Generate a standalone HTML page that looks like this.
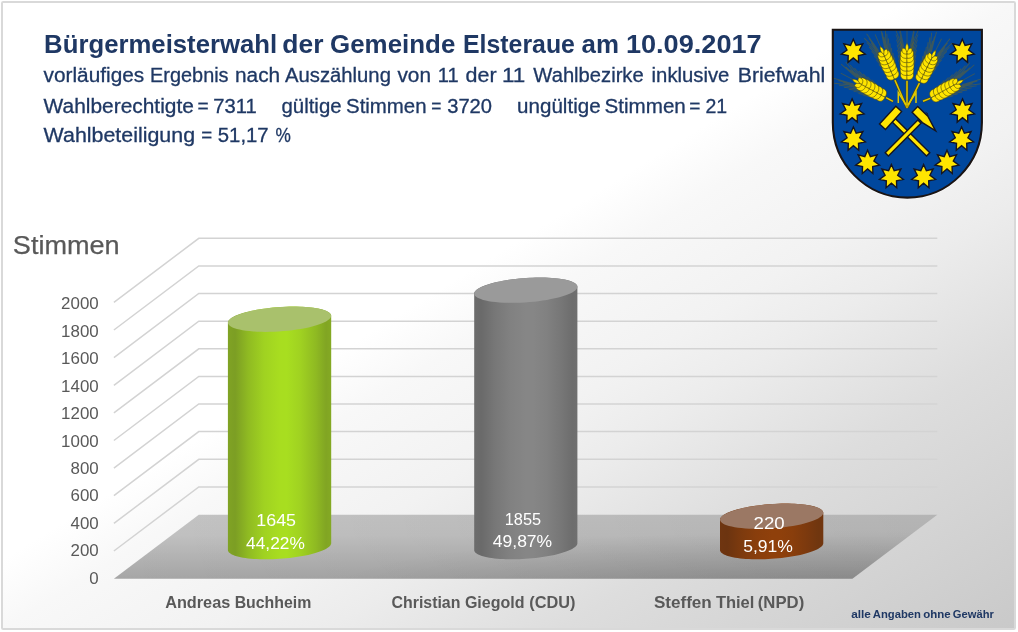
<!DOCTYPE html>
<html lang="de"><head><meta charset="utf-8"><title>Bürgermeisterwahl der Gemeinde Elsteraue am 10.09.2017</title>
<style>
html,body{margin:0;padding:0;background:#fff;}
body{width:1018px;height:632px;overflow:hidden;font-family:"Liberation Sans",sans-serif;}
svg{display:block;}
svg text{font-family:"Liberation Sans",sans-serif;}
</style></head><body>
<svg width="1018" height="632" viewBox="0 0 1018 632">
<defs>
<linearGradient id="bg" x1="0" y1="0" x2="1" y2="1">
<stop offset="0" stop-color="#ffffff"/><stop offset="0.445" stop-color="#ffffff"/><stop offset="0.5" stop-color="#f8f8f8"/><stop offset="0.6" stop-color="#f2f2f2"/><stop offset="0.66" stop-color="#ececec"/><stop offset="0.776" stop-color="#dddddd"/><stop offset="1" stop-color="#c9c9c9"/>
</linearGradient>
<linearGradient id="floor" gradientUnits="userSpaceOnUse" x1="0" y1="514" x2="0" y2="578">
<stop offset="0" stop-color="#c4c4c4"/><stop offset="0.33" stop-color="#c1c1c1"/><stop offset="1" stop-color="#a6a6a6"/>
</linearGradient>
<linearGradient id="floorx" gradientUnits="userSpaceOnUse" x1="114" y1="0" x2="937" y2="0">
<stop offset="0" stop-color="#000" stop-opacity="0"/><stop offset="1" stop-color="#000" stop-opacity="0.08"/>
</linearGradient>
<radialGradient id="floorr" gradientUnits="userSpaceOnUse" cx="0" cy="0" r="1" gradientTransform="translate(840,592) scale(520,62)">
<stop offset="0" stop-color="#000" stop-opacity="0.13"/><stop offset="1" stop-color="#000" stop-opacity="0"/>
</radialGradient>
<linearGradient id="gGreen" x1="0" y1="0" x2="1" y2="0"><stop offset="0" stop-color="#80a324"/><stop offset="0.07" stop-color="#7c9e24"/><stop offset="0.2" stop-color="#90bb22"/><stop offset="0.35" stop-color="#a0d221"/><stop offset="0.5" stop-color="#a8dd20"/><stop offset="0.57" stop-color="#a8de20"/><stop offset="0.7" stop-color="#a0d221"/><stop offset="0.85" stop-color="#8fba22"/><stop offset="0.95" stop-color="#81a523"/><stop offset="1" stop-color="#84a923"/></linearGradient>
<linearGradient id="gGray" x1="0" y1="0" x2="1" y2="0"><stop offset="0" stop-color="#6c6c6c"/><stop offset="0.07" stop-color="#6a6a6a"/><stop offset="0.2" stop-color="#777777"/><stop offset="0.35" stop-color="#818181"/><stop offset="0.5" stop-color="#868686"/><stop offset="0.57" stop-color="#868686"/><stop offset="0.7" stop-color="#818181"/><stop offset="0.85" stop-color="#767676"/><stop offset="0.95" stop-color="#6d6d6d"/><stop offset="1" stop-color="#6f6f6f"/></linearGradient>
<linearGradient id="gBrown" x1="0" y1="0" x2="1" y2="0"><stop offset="0" stop-color="#6f3510"/><stop offset="0.07" stop-color="#6c3410"/><stop offset="0.2" stop-color="#7c3a0e"/><stop offset="0.35" stop-color="#893e0c"/><stop offset="0.5" stop-color="#8f400b"/><stop offset="0.57" stop-color="#8f400b"/><stop offset="0.7" stop-color="#893e0c"/><stop offset="0.85" stop-color="#7b390e"/><stop offset="0.95" stop-color="#70360f"/><stop offset="1" stop-color="#72360f"/></linearGradient>
</defs>

<rect x="0" y="0" width="1018" height="632" fill="#ffffff"/>
<rect x="2" y="2" width="1013" height="627" rx="1.2" ry="1.2" fill="url(#bg)" stroke="#d9d9d9" stroke-width="2"/>
<text y="52.7" font-size="26" fill="#1f3864" font-weight="bold"><tspan x="44.12" textLength="233.10" lengthAdjust="spacingAndGlyphs">Bürgermeisterwahl</tspan> <tspan x="282.27" textLength="41.18" lengthAdjust="spacingAndGlyphs">der</tspan> <tspan x="330.06" textLength="125.25" lengthAdjust="spacingAndGlyphs">Gemeinde</tspan> <tspan x="463.01" textLength="111.92" lengthAdjust="spacingAndGlyphs">Elsteraue</tspan> <tspan x="581.55" textLength="37.42" lengthAdjust="spacingAndGlyphs">am</tspan> <tspan x="625.95" textLength="135.69" lengthAdjust="spacingAndGlyphs">10.09.2017</tspan></text>
<text y="81.9" font-size="20" fill="#1f3864" stroke="#1f3864" stroke-width="0.3"><tspan x="43.62" textLength="100.54" lengthAdjust="spacingAndGlyphs">vorläufiges</tspan> <tspan x="150.08" textLength="78.49" lengthAdjust="spacingAndGlyphs">Ergebnis</tspan> <tspan x="235.04" textLength="45.12" lengthAdjust="spacingAndGlyphs">nach</tspan> <tspan x="285.07" textLength="105.84" lengthAdjust="spacingAndGlyphs">Auszählung</tspan> <tspan x="397.46" textLength="33.56" lengthAdjust="spacingAndGlyphs">von</tspan> <tspan x="437.79" textLength="20.81" lengthAdjust="spacingAndGlyphs">11</tspan> <tspan x="465.51" textLength="31.06" lengthAdjust="spacingAndGlyphs">der</tspan> <tspan x="501.90" textLength="23.31" lengthAdjust="spacingAndGlyphs">11</tspan> <tspan x="533.37" textLength="110.32" lengthAdjust="spacingAndGlyphs">Wahlbezirke</tspan> <tspan x="651.62" textLength="77.80" lengthAdjust="spacingAndGlyphs">inklusive</tspan> <tspan x="737.72" textLength="87.47" lengthAdjust="spacingAndGlyphs">Briefwahl</tspan></text>
<text y="113.4" font-size="20" fill="#1f3864" stroke="#1f3864" stroke-width="0.3"><tspan x="43.59" textLength="150.25" lengthAdjust="spacingAndGlyphs">Wahlberechtigte</tspan> <tspan x="197.38" textLength="11.15" lengthAdjust="spacingAndGlyphs">=</tspan> <tspan x="213.38" textLength="43.44" lengthAdjust="spacingAndGlyphs">7311</tspan> <tspan x="281.52" textLength="60.05" lengthAdjust="spacingAndGlyphs">gültige</tspan> <tspan x="346.03" textLength="80.53" lengthAdjust="spacingAndGlyphs">Stimmen</tspan> <tspan x="431.26" textLength="10.16" lengthAdjust="spacingAndGlyphs">=</tspan> <tspan x="447.23" textLength="44.81" lengthAdjust="spacingAndGlyphs">3720</tspan> <tspan x="517.11" textLength="83.50" lengthAdjust="spacingAndGlyphs">ungültige</tspan> <tspan x="604.55" textLength="81.26" lengthAdjust="spacingAndGlyphs">Stimmen</tspan> <tspan x="689.25" textLength="11.15" lengthAdjust="spacingAndGlyphs">=</tspan> <tspan x="705.44" textLength="21.68" lengthAdjust="spacingAndGlyphs">21</tspan></text>
<text y="142.0" font-size="20" fill="#1f3864" stroke="#1f3864" stroke-width="0.3"><tspan x="43.59" textLength="151.46" lengthAdjust="spacingAndGlyphs">Wahlbeteiligung</tspan> <tspan x="201.32" textLength="10.94" lengthAdjust="spacingAndGlyphs">=</tspan> <tspan x="217.80" textLength="50.83" lengthAdjust="spacingAndGlyphs">51,17</tspan> <tspan x="275.61" textLength="15.35" lengthAdjust="spacingAndGlyphs">%</tspan></text>
<path d="M113.9,551.0 L198.8,486.9 L937.3,486.9 M113.9,523.4 L198.8,459.3 L937.3,459.3 M113.9,495.7 L198.8,431.6 L937.3,431.6 M113.9,468.1 L198.8,404.0 L937.3,404.0 M113.9,440.5 L198.8,376.4 L937.3,376.4 M113.9,412.9 L198.8,348.8 L937.3,348.8 M113.9,385.3 L198.8,321.2 L937.3,321.2 M113.9,357.6 L198.8,293.5 L937.3,293.5 M113.9,330.0 L198.8,265.9 L937.3,265.9 M113.9,302.4 L198.8,238.3 L937.3,238.3" fill="none" stroke="#d3d3d3" stroke-width="1.5"/>
<path d="M113.9,578.8 L198.8,514.7 L937.3,514.7 L852.4,578.8 Z" fill="url(#floor)"/>
<path d="M113.9,578.8 L198.8,514.7 L937.3,514.7 L852.4,578.8 Z" fill="url(#floorx)"/>
<path d="M113.9,578.8 L198.8,514.7 L937.3,514.7 L852.4,578.8 Z" fill="url(#floorr)"/>
<path d="M227.9,550.1 L228.0,550.9 L228.4,551.6 L228.9,552.4 L229.7,553.1 L230.7,553.8 L231.8,554.5 L233.2,555.1 L234.8,555.7 L236.6,556.3 L238.6,556.8 L240.7,557.3 L243.0,557.7 L245.5,558.1 L248.1,558.4 L250.9,558.7 L253.7,558.9 L256.7,559.1 L259.8,559.2 L263.0,559.3 L266.2,559.3 L269.5,559.3 L272.8,559.2 L276.2,559.0 L279.6,558.8 L282.9,558.6 L286.3,558.3 L289.6,557.9 L292.9,557.5 L296.1,557.1 L299.3,556.6 L302.4,556.1 L305.4,555.5 L308.2,554.9 L311.0,554.2 L313.6,553.5 L316.1,552.8 L318.4,552.1 L320.5,551.3 L322.5,550.6 L324.3,549.8 L325.9,549.0 L327.3,548.1 L328.4,547.3 L329.4,546.5 L330.2,545.7 L330.7,544.8 L331.1,544.0 L331.2,543.2 L331.2,315.8 L331.1,315.0 L330.7,314.2 L330.2,313.5 L329.4,312.8 L328.4,312.1 L327.3,311.4 L325.9,310.8 L324.3,310.2 L322.5,309.6 L320.5,309.1 L318.4,308.6 L316.1,308.2 L313.6,307.8 L311.0,307.5 L308.2,307.2 L305.4,307.0 L302.4,306.8 L299.3,306.7 L296.1,306.6 L292.9,306.6 L289.6,306.6 L286.3,306.7 L282.9,306.9 L279.6,307.1 L276.2,307.3 L272.8,307.6 L269.5,308.0 L266.2,308.4 L263.0,308.8 L259.8,309.3 L256.7,309.8 L253.7,310.4 L250.9,311.0 L248.1,311.7 L245.5,312.3 L243.0,313.0 L240.7,313.8 L238.6,314.5 L236.6,315.3 L234.8,316.1 L233.2,316.9 L231.8,317.7 L230.7,318.6 L229.7,319.4 L228.9,320.2 L228.4,321.0 L228.0,321.9 L227.9,322.7 Z" fill="url(#gGreen)"/>
<path d="M329.2,319.2 L330.3,318.1 L330.9,317.0 L331.2,316.0 L331.0,314.9 L330.5,313.9 L329.6,312.9 L328.3,312.0 L326.6,311.1 L324.6,310.3 L322.2,309.5 L319.5,308.9 L316.5,308.3 L313.2,307.8 L309.7,307.3 L305.9,307.0 L302.0,306.8 L297.8,306.6 L293.6,306.6 L289.2,306.6 L284.7,306.8 L280.2,307.0 L275.7,307.3 L271.2,307.8 L266.8,308.3 L262.5,308.9 L258.3,309.5 L254.3,310.3 L250.5,311.1 L246.9,312.0 L243.5,312.9 L240.4,313.9 L237.6,314.9 L235.2,316.0 L233.0,317.0 L231.3,318.1 L229.9,319.2 L228.8,320.3 L228.2,321.4 L227.9,322.5 L228.1,323.6 L228.6,324.6 L229.5,325.6 L230.8,326.5 L232.5,327.4 L234.5,328.2 L236.9,328.9 L239.6,329.6 L242.6,330.2 L245.9,330.7 L249.4,331.1 L253.2,331.4 L257.1,331.7 L261.3,331.8 L265.6,331.9 L269.9,331.8 L274.4,331.7 L278.9,331.4 L283.4,331.1 L287.9,330.7 L292.3,330.2 L296.6,329.6 L300.8,328.9 L304.8,328.2 L308.6,327.4 L312.2,326.5 L315.6,325.6 L318.7,324.6 L321.5,323.6 L323.9,322.5 L326.1,321.4 L327.8,320.3 L329.2,319.2 Z" fill="#a9c16c"/>
<path d="M474.2,550.1 L474.3,550.9 L474.6,551.6 L475.2,552.4 L475.9,553.1 L476.9,553.8 L478.1,554.5 L479.5,555.1 L481.1,555.7 L482.9,556.3 L484.8,556.8 L487.0,557.3 L489.3,557.7 L491.8,558.1 L494.4,558.4 L497.1,558.7 L500.0,558.9 L503.0,559.1 L506.0,559.2 L509.2,559.3 L512.4,559.3 L515.7,559.3 L519.1,559.2 L522.4,559.0 L525.8,558.8 L529.2,558.6 L532.5,558.3 L535.9,557.9 L539.2,557.5 L542.4,557.1 L545.6,556.6 L548.6,556.1 L551.6,555.5 L554.5,554.9 L557.2,554.2 L559.8,553.5 L562.3,552.8 L564.6,552.1 L566.8,551.3 L568.7,550.6 L570.5,549.8 L572.1,549.0 L573.5,548.1 L574.7,547.3 L575.7,546.5 L576.4,545.7 L577.0,544.8 L577.3,544.0 L577.4,543.2 L577.4,286.8 L577.3,286.0 L577.0,285.2 L576.4,284.5 L575.7,283.7 L574.7,283.0 L573.5,282.4 L572.1,281.7 L570.5,281.1 L568.7,280.6 L566.8,280.1 L564.6,279.6 L562.3,279.2 L559.8,278.8 L557.2,278.4 L554.5,278.2 L551.6,277.9 L548.6,277.8 L545.6,277.6 L542.4,277.6 L539.2,277.5 L535.9,277.6 L532.5,277.7 L529.2,277.8 L525.8,278.0 L522.4,278.3 L519.1,278.6 L515.7,278.9 L512.4,279.3 L509.2,279.8 L506.0,280.3 L503.0,280.8 L500.0,281.4 L497.1,282.0 L494.4,282.6 L491.8,283.3 L489.3,284.0 L487.0,284.7 L484.8,285.5 L482.9,286.3 L481.1,287.1 L479.5,287.9 L478.1,288.7 L476.9,289.5 L475.9,290.4 L475.2,291.2 L474.6,292.0 L474.3,292.8 L474.2,293.6 Z" fill="url(#gGray)"/>
<path d="M575.5,290.2 L576.5,289.1 L577.2,288.0 L577.4,286.9 L577.3,285.9 L576.8,284.9 L575.8,283.9 L574.5,282.9 L572.9,282.1 L570.8,281.3 L568.5,280.5 L565.8,279.8 L562.8,279.2 L559.5,278.7 L556.0,278.3 L552.2,278.0 L548.2,277.7 L544.1,277.6 L539.8,277.5 L535.4,277.6 L531.0,277.7 L526.5,278.0 L522.0,278.3 L517.5,278.7 L513.1,279.2 L508.8,279.8 L504.6,280.5 L500.6,281.3 L496.7,282.1 L493.1,282.9 L489.8,283.9 L486.7,284.9 L483.9,285.9 L481.4,286.9 L479.3,288.0 L477.5,289.1 L476.1,290.2 L475.1,291.3 L474.4,292.4 L474.2,293.5 L474.3,294.5 L474.8,295.5 L475.8,296.5 L477.1,297.5 L478.7,298.3 L480.8,299.1 L483.1,299.9 L485.8,300.6 L488.8,301.2 L492.1,301.7 L495.6,302.1 L499.4,302.4 L503.4,302.7 L507.5,302.8 L511.8,302.8 L516.2,302.8 L520.6,302.7 L525.1,302.4 L529.6,302.1 L534.1,301.7 L538.5,301.2 L542.8,300.6 L547.0,299.9 L551.0,299.1 L554.9,298.3 L558.5,297.5 L561.8,296.5 L564.9,295.5 L567.7,294.5 L570.2,293.5 L572.3,292.4 L574.1,291.3 L575.5,290.2 Z" fill="#9a9a9a"/>
<path d="M720.0,550.1 L720.1,550.9 L720.5,551.6 L721.0,552.4 L721.8,553.1 L722.8,553.8 L723.9,554.5 L725.3,555.1 L726.9,555.7 L728.7,556.3 L730.7,556.8 L732.8,557.3 L735.1,557.7 L737.6,558.1 L740.2,558.4 L743.0,558.7 L745.8,558.9 L748.8,559.1 L751.9,559.2 L755.1,559.3 L758.3,559.3 L761.6,559.3 L764.9,559.2 L768.3,559.0 L771.6,558.8 L775.0,558.6 L778.4,558.3 L781.7,557.9 L785.0,557.5 L788.2,557.1 L791.4,556.6 L794.5,556.1 L797.5,555.5 L800.3,554.9 L803.1,554.2 L805.7,553.5 L808.2,552.8 L810.5,552.1 L812.6,551.3 L814.6,550.6 L816.4,549.8 L818.0,549.0 L819.4,548.1 L820.5,547.3 L821.5,546.5 L822.3,545.7 L822.8,544.8 L823.2,544.0 L823.3,543.2 L823.3,512.8 L823.2,512.0 L822.8,511.2 L822.3,510.5 L821.5,509.8 L820.5,509.1 L819.4,508.4 L818.0,507.8 L816.4,507.2 L814.6,506.6 L812.6,506.1 L810.5,505.6 L808.2,505.2 L805.7,504.8 L803.1,504.5 L800.3,504.2 L797.5,504.0 L794.5,503.8 L791.4,503.7 L788.2,503.6 L785.0,503.6 L781.7,503.6 L778.4,503.7 L775.0,503.9 L771.6,504.1 L768.3,504.3 L764.9,504.6 L761.6,505.0 L758.3,505.4 L755.1,505.8 L751.9,506.3 L748.8,506.8 L745.8,507.4 L743.0,508.0 L740.2,508.7 L737.6,509.3 L735.1,510.1 L732.8,510.8 L730.7,511.5 L728.7,512.3 L726.9,513.1 L725.3,513.9 L723.9,514.7 L722.8,515.6 L721.8,516.4 L721.0,517.2 L720.5,518.0 L720.1,518.9 L720.0,519.7 Z" fill="url(#gBrown)"/>
<path d="M821.4,516.2 L822.4,515.1 L823.0,514.0 L823.3,513.0 L823.1,511.9 L822.6,510.9 L821.7,509.9 L820.4,509.0 L818.7,508.1 L816.7,507.3 L814.3,506.5 L811.6,505.9 L808.6,505.3 L805.3,504.8 L801.8,504.3 L798.0,504.0 L794.1,503.8 L789.9,503.6 L785.6,503.6 L781.3,503.6 L776.8,503.8 L772.3,504.0 L767.8,504.3 L763.3,504.8 L758.9,505.3 L754.6,505.9 L750.4,506.5 L746.4,507.3 L742.6,508.1 L739.0,509.0 L735.6,509.9 L732.5,510.9 L729.7,511.9 L727.3,513.0 L725.1,514.0 L723.4,515.1 L721.9,516.2 L720.9,517.3 L720.3,518.4 L720.0,519.5 L720.2,520.6 L720.7,521.6 L721.6,522.6 L722.9,523.5 L724.6,524.4 L726.6,525.2 L729.0,525.9 L731.7,526.6 L734.7,527.2 L738.0,527.7 L741.5,528.1 L745.3,528.5 L749.2,528.7 L753.4,528.8 L757.6,528.9 L762.0,528.8 L766.5,528.7 L771.0,528.5 L775.5,528.1 L780.0,527.7 L784.4,527.2 L788.7,526.6 L792.9,525.9 L796.9,525.2 L800.7,524.4 L804.3,523.5 L807.7,522.6 L810.8,521.6 L813.6,520.6 L816.0,519.5 L818.2,518.4 L819.9,517.3 L821.4,516.2 Z" fill="#9b7864"/>
<g fill="#ffffff" font-size="17">
<text y="526.0" font-size="16.8" fill="#fff"><tspan x="256.26" textLength="39.77" lengthAdjust="spacingAndGlyphs">1645</tspan></text>
<text y="548.8" font-size="16.8" fill="#fff"><tspan x="246.11" textLength="58.67" lengthAdjust="spacingAndGlyphs">44,22%</tspan></text>
<text y="525.0" font-size="16" fill="#fff"><tspan x="504.76" textLength="36.28" lengthAdjust="spacingAndGlyphs">1855</tspan></text>
<text y="547.0" font-size="16" fill="#fff"><tspan x="492.81" textLength="59.37" lengthAdjust="spacingAndGlyphs">49,87%</tspan></text>
<text y="528.8" font-size="16.8" fill="#fff"><tspan x="753.57" textLength="31.13" lengthAdjust="spacingAndGlyphs">220</tspan></text>
<text y="551.7" font-size="16.8" fill="#fff"><tspan x="743.23" textLength="49.75" lengthAdjust="spacingAndGlyphs">5,91%</tspan></text>
</g>
<text x="98.7" y="583.8" font-size="17" fill="#595959" text-anchor="end" textLength="9.4" lengthAdjust="spacingAndGlyphs">0</text>
<text x="98.7" y="556.3" font-size="17" fill="#595959" text-anchor="end" textLength="28.2" lengthAdjust="spacingAndGlyphs">200</text>
<text x="98.7" y="528.9" font-size="17" fill="#595959" text-anchor="end" textLength="28.2" lengthAdjust="spacingAndGlyphs">400</text>
<text x="98.7" y="501.4" font-size="17" fill="#595959" text-anchor="end" textLength="28.2" lengthAdjust="spacingAndGlyphs">600</text>
<text x="98.7" y="474.0" font-size="17" fill="#595959" text-anchor="end" textLength="28.2" lengthAdjust="spacingAndGlyphs">800</text>
<text x="98.7" y="446.5" font-size="17" fill="#595959" text-anchor="end" textLength="37.6" lengthAdjust="spacingAndGlyphs">1000</text>
<text x="98.7" y="419.1" font-size="17" fill="#595959" text-anchor="end" textLength="37.6" lengthAdjust="spacingAndGlyphs">1200</text>
<text x="98.7" y="391.6" font-size="17" fill="#595959" text-anchor="end" textLength="37.6" lengthAdjust="spacingAndGlyphs">1400</text>
<text x="98.7" y="364.2" font-size="17" fill="#595959" text-anchor="end" textLength="37.6" lengthAdjust="spacingAndGlyphs">1600</text>
<text x="98.7" y="336.8" font-size="17" fill="#595959" text-anchor="end" textLength="37.6" lengthAdjust="spacingAndGlyphs">1800</text>
<text x="98.7" y="309.3" font-size="17" fill="#595959" text-anchor="end" textLength="37.6" lengthAdjust="spacingAndGlyphs">2000</text>
<text y="253.8" font-size="26.5" fill="#595959" stroke="#595959" stroke-width="0.25"><tspan x="12.84" textLength="106.82" lengthAdjust="spacingAndGlyphs">Stimmen</tspan></text>
<text y="607.6" font-size="17" fill="#595959" font-weight="bold"><tspan x="165.14" textLength="65.17" lengthAdjust="spacingAndGlyphs">Andreas</tspan> <tspan x="234.63" textLength="76.76" lengthAdjust="spacingAndGlyphs">Buchheim</tspan> <tspan x="391.52" textLength="68.92" lengthAdjust="spacingAndGlyphs">Christian</tspan> <tspan x="464.92" textLength="59.63" lengthAdjust="spacingAndGlyphs">Giegold</tspan> <tspan x="529.35" textLength="46.21" lengthAdjust="spacingAndGlyphs">(CDU)</tspan> <tspan x="653.88" textLength="57.92" lengthAdjust="spacingAndGlyphs">Steffen</tspan> <tspan x="715.90" textLength="38.48" lengthAdjust="spacingAndGlyphs">Thiel</tspan> <tspan x="757.80" textLength="46.42" lengthAdjust="spacingAndGlyphs">(NPD)</tspan></text>
<text y="618.1" font-size="11.3" fill="#1f3864" font-weight="bold"><tspan x="851.17" textLength="19.70" lengthAdjust="spacingAndGlyphs">alle</tspan> <tspan x="872.81" textLength="48.19" lengthAdjust="spacingAndGlyphs">Angaben</tspan> <tspan x="923.18" textLength="27.45" lengthAdjust="spacingAndGlyphs">ohne</tspan> <tspan x="952.85" textLength="40.95" lengthAdjust="spacingAndGlyphs">Gewähr</tspan></text>
<g id="wappen">
<path d="M832.8,29.75 L981.9,29.75 L981.9,122.6 A74.55,75 0 0 1 907.35,197.6 A74.55,75 0 0 1 832.8,122.6 Z" fill="none" stroke="#ffffff" stroke-opacity="0.8" stroke-width="3.4"/>
<path d="M832.8,29.75 L981.9,29.75 L981.9,122.6 A74.55,75 0 0 1 907.35,197.6 A74.55,75 0 0 1 832.8,122.6 Z" fill="#00479d"/>
<clipPath id="shieldclip"><path d="M832.8,29.75 L981.9,29.75 L981.9,122.6 A74.55,75 0 0 1 907.35,197.6 A74.55,75 0 0 1 832.8,122.6 Z"/></clipPath>
<g clip-path="url(#shieldclip)">
<g fill="#ffe500" stroke="#15151f" stroke-width="1.4" stroke-linejoin="miter">
<polygon points="853.3,39.2 856.1,45.5 862.8,43.8 859.6,50.0 865.2,54.1 858.4,55.5 858.6,62.4 853.3,57.9 848.0,62.4 848.2,55.5 841.4,54.1 847.0,50.0 843.8,43.8 850.5,45.5"/>
<polygon points="962.3,39.2 965.1,45.5 971.8,43.8 968.6,50.0 974.2,54.1 967.4,55.5 967.6,62.4 962.3,57.9 957.0,62.4 957.2,55.5 950.4,54.1 956.0,50.0 952.8,43.8 959.5,45.5"/>
<polygon points="852.1,98.9 854.9,105.2 861.6,103.5 858.4,109.7 864.0,113.8 857.2,115.2 857.4,122.1 852.1,117.6 846.8,122.1 847.0,115.2 840.2,113.8 845.8,109.7 842.6,103.5 849.3,105.2"/>
<polygon points="962.5,98.9 965.3,105.2 972.0,103.5 968.8,109.7 974.4,113.8 967.6,115.2 967.8,122.1 962.5,117.6 957.2,122.1 957.4,115.2 950.6,113.8 956.2,109.7 953.0,103.5 959.7,105.2"/>
<polygon points="853.4,127.0 856.2,133.3 862.9,131.6 859.7,137.8 865.3,141.9 858.5,143.3 858.7,150.2 853.4,145.7 848.1,150.2 848.3,143.3 841.5,141.9 847.1,137.8 843.9,131.6 850.6,133.3"/>
<polygon points="961.6,127.0 964.4,133.3 971.1,131.6 967.9,137.8 973.5,141.9 966.7,143.3 966.9,150.2 961.6,145.7 956.3,150.2 956.5,143.3 949.7,141.9 955.3,137.8 952.1,131.6 958.8,133.3"/>
<polygon points="867.6,150.3 870.4,156.6 877.1,154.9 873.9,161.1 879.5,165.2 872.7,166.6 872.9,173.5 867.6,169.0 862.3,173.5 862.5,166.6 855.7,165.2 861.3,161.1 858.1,154.9 864.8,156.6"/>
<polygon points="947.0,150.3 949.8,156.6 956.5,154.9 953.3,161.1 958.9,165.2 952.1,166.6 952.3,173.5 947.0,169.0 941.7,173.5 941.9,166.6 935.1,165.2 940.7,161.1 937.5,154.9 944.2,156.6"/>
<polygon points="891.4,164.5 894.2,170.8 900.9,169.1 897.7,175.3 903.3,179.4 896.5,180.8 896.7,187.7 891.4,183.2 886.1,187.7 886.3,180.8 879.5,179.4 885.1,175.3 881.9,169.1 888.6,170.8"/>
<polygon points="923.6,164.5 926.4,170.8 933.1,169.1 929.9,175.3 935.5,179.4 928.7,180.8 928.9,187.7 923.6,183.2 918.3,187.7 918.5,180.8 911.7,179.4 917.3,175.3 914.1,169.1 920.8,170.8"/>
</g>
<line x1="886.0" y1="97.6" x2="893.0" y2="101.3" stroke="#4a4410" stroke-width="2.6"/>
<line x1="886.0" y1="97.6" x2="893.0" y2="101.3" stroke="#e0c800" stroke-width="1.5"/>
<g transform="translate(886.0,97.6) rotate(-61.5)">
<path d="M-4.4,-7.0 L-8.9,-21.0 M-3.4,-8.5 L-6.1,-24.0 M4.4,-7.0 L8.9,-21.0 M3.4,-8.5 L6.1,-24.0 M-4.4,-11.4 L-9.5,-26.2 M-3.4,-12.9 L-6.4,-29.2 M4.4,-11.4 L9.5,-26.2 M3.4,-12.9 L6.4,-29.2 M-4.4,-15.8 L-10.0,-31.4 M-3.4,-17.3 L-6.7,-34.4 M4.4,-15.8 L10.0,-31.4 M3.4,-17.3 L6.7,-34.4 M-4.4,-20.3 L-10.5,-36.7 M-3.4,-21.8 L-7.0,-39.7 M4.4,-20.3 L10.5,-36.7 M3.4,-21.8 L7.0,-39.7 M-4.4,-24.7 L-11.0,-41.9 M-3.4,-26.2 L-7.4,-44.9 M4.4,-24.7 L11.0,-41.9 M3.4,-26.2 L7.4,-44.9 M-4.4,-29.1 L-11.6,-47.1 M-3.4,-30.6 L-7.7,-50.1 M4.4,-29.1 L11.6,-47.1 M3.4,-30.6 L7.7,-50.1 M-4.4,-33.6 L-12.1,-52.4 M-3.4,-35.1 L-8.0,-55.4 M4.4,-33.6 L12.1,-52.4 M3.4,-35.1 L8.0,-55.4 M0,-37.5 L0,-51.5" stroke="#6a6428" stroke-width="0.9" fill="none" opacity="0.55"/>
<g fill="#ffe500" stroke="#4a4410" stroke-width="0.55">
<path d="M0,0 C4.25,-2.86 4.25,-6.68 0,-9.54 C-4.25,-6.68 -4.25,-2.86 0,0 Z" transform="translate(-0.3,-1.0) rotate(-37)"/>
<path d="M0,0 C4.25,-2.86 4.25,-6.68 0,-9.54 C-4.25,-6.68 -4.25,-2.86 0,0 Z" transform="translate(0.3,-1.0) rotate(37)"/>
<path d="M0,0 C4.44,-2.99 4.44,-6.97 0,-9.96 C-4.44,-6.97 -4.44,-2.99 0,0 Z" transform="translate(-0.3,-5.4) rotate(-37)"/>
<path d="M0,0 C4.44,-2.99 4.44,-6.97 0,-9.96 C-4.44,-6.97 -4.44,-2.99 0,0 Z" transform="translate(0.3,-5.4) rotate(37)"/>
<path d="M0,0 C4.63,-3.12 4.63,-7.27 0,-10.39 C-4.63,-7.27 -4.63,-3.12 0,0 Z" transform="translate(-0.3,-9.9) rotate(-37)"/>
<path d="M0,0 C4.63,-3.12 4.63,-7.27 0,-10.39 C-4.63,-7.27 -4.63,-3.12 0,0 Z" transform="translate(0.3,-9.9) rotate(37)"/>
<path d="M0,0 C4.63,-3.12 4.63,-7.27 0,-10.39 C-4.63,-7.27 -4.63,-3.12 0,0 Z" transform="translate(-0.3,-14.3) rotate(-37)"/>
<path d="M0,0 C4.63,-3.12 4.63,-7.27 0,-10.39 C-4.63,-7.27 -4.63,-3.12 0,0 Z" transform="translate(0.3,-14.3) rotate(37)"/>
<path d="M0,0 C4.44,-2.99 4.44,-6.97 0,-9.96 C-4.44,-6.97 -4.44,-2.99 0,0 Z" transform="translate(-0.3,-18.7) rotate(-37)"/>
<path d="M0,0 C4.44,-2.99 4.44,-6.97 0,-9.96 C-4.44,-6.97 -4.44,-2.99 0,0 Z" transform="translate(0.3,-18.7) rotate(37)"/>
<path d="M0,0 C4.25,-2.86 4.25,-6.68 0,-9.54 C-4.25,-6.68 -4.25,-2.86 0,0 Z" transform="translate(-0.3,-23.1) rotate(-37)"/>
<path d="M0,0 C4.25,-2.86 4.25,-6.68 0,-9.54 C-4.25,-6.68 -4.25,-2.86 0,0 Z" transform="translate(0.3,-23.1) rotate(37)"/>
<path d="M0,0 C3.21,-2.16 3.21,-5.05 0,-7.21 C-3.21,-5.05 -3.21,-2.16 0,0 Z" transform="translate(-0.3,-27.6) rotate(-37)"/>
<path d="M0,0 C3.21,-2.16 3.21,-5.05 0,-7.21 C-3.21,-5.05 -3.21,-2.16 0,0 Z" transform="translate(0.3,-27.6) rotate(37)"/>
<path d="M0,-30.0 C2.2,-32.5 1.8,-36.0 0,-38.5 C-1.8,-36.0 -2.2,-32.5 0,-30.0 Z"/>
</g></g>
<line x1="930.2" y1="98.4" x2="923.0" y2="101.3" stroke="#4a4410" stroke-width="2.6"/>
<line x1="930.2" y1="98.4" x2="923.0" y2="101.3" stroke="#e0c800" stroke-width="1.5"/>
<g transform="translate(930.2,98.4) rotate(61.0)">
<path d="M-4.4,-6.9 L-8.9,-20.9 M-3.4,-8.4 L-6.1,-23.9 M4.4,-6.9 L8.9,-20.9 M3.4,-8.4 L6.1,-23.9 M-4.4,-11.3 L-9.5,-26.1 M-3.4,-12.8 L-6.4,-29.1 M4.4,-11.3 L9.5,-26.1 M3.4,-12.8 L6.4,-29.1 M-4.4,-15.6 L-10.0,-31.2 M-3.4,-17.1 L-6.7,-34.2 M4.4,-15.6 L10.0,-31.2 M3.4,-17.1 L6.7,-34.2 M-4.4,-20.0 L-10.5,-36.4 M-3.4,-21.5 L-7.0,-39.4 M4.4,-20.0 L10.5,-36.4 M3.4,-21.5 L7.0,-39.4 M-4.4,-24.3 L-11.0,-41.5 M-3.4,-25.8 L-7.4,-44.5 M4.4,-24.3 L11.0,-41.5 M3.4,-25.8 L7.4,-44.5 M-4.4,-28.7 L-11.6,-46.7 M-3.4,-30.2 L-7.7,-49.7 M4.4,-28.7 L11.6,-46.7 M3.4,-30.2 L7.7,-49.7 M-4.4,-33.1 L-12.1,-51.9 M-3.4,-34.6 L-8.0,-54.9 M4.4,-33.1 L12.1,-51.9 M3.4,-34.6 L8.0,-54.9 M0,-37.0 L0,-51.0" stroke="#6a6428" stroke-width="0.9" fill="none" opacity="0.55"/>
<g fill="#ffe500" stroke="#4a4410" stroke-width="0.55">
<path d="M0,0 C4.25,-2.86 4.25,-6.68 0,-9.54 C-4.25,-6.68 -4.25,-2.86 0,0 Z" transform="translate(-0.3,-1.0) rotate(-37)"/>
<path d="M0,0 C4.25,-2.86 4.25,-6.68 0,-9.54 C-4.25,-6.68 -4.25,-2.86 0,0 Z" transform="translate(0.3,-1.0) rotate(37)"/>
<path d="M0,0 C4.44,-2.99 4.44,-6.97 0,-9.96 C-4.44,-6.97 -4.44,-2.99 0,0 Z" transform="translate(-0.3,-5.4) rotate(-37)"/>
<path d="M0,0 C4.44,-2.99 4.44,-6.97 0,-9.96 C-4.44,-6.97 -4.44,-2.99 0,0 Z" transform="translate(0.3,-5.4) rotate(37)"/>
<path d="M0,0 C4.63,-3.12 4.63,-7.27 0,-10.39 C-4.63,-7.27 -4.63,-3.12 0,0 Z" transform="translate(-0.3,-9.7) rotate(-37)"/>
<path d="M0,0 C4.63,-3.12 4.63,-7.27 0,-10.39 C-4.63,-7.27 -4.63,-3.12 0,0 Z" transform="translate(0.3,-9.7) rotate(37)"/>
<path d="M0,0 C4.63,-3.12 4.63,-7.27 0,-10.39 C-4.63,-7.27 -4.63,-3.12 0,0 Z" transform="translate(-0.3,-14.1) rotate(-37)"/>
<path d="M0,0 C4.63,-3.12 4.63,-7.27 0,-10.39 C-4.63,-7.27 -4.63,-3.12 0,0 Z" transform="translate(0.3,-14.1) rotate(37)"/>
<path d="M0,0 C4.44,-2.99 4.44,-6.97 0,-9.96 C-4.44,-6.97 -4.44,-2.99 0,0 Z" transform="translate(-0.3,-18.4) rotate(-37)"/>
<path d="M0,0 C4.44,-2.99 4.44,-6.97 0,-9.96 C-4.44,-6.97 -4.44,-2.99 0,0 Z" transform="translate(0.3,-18.4) rotate(37)"/>
<path d="M0,0 C4.25,-2.86 4.25,-6.68 0,-9.54 C-4.25,-6.68 -4.25,-2.86 0,0 Z" transform="translate(-0.3,-22.8) rotate(-37)"/>
<path d="M0,0 C4.25,-2.86 4.25,-6.68 0,-9.54 C-4.25,-6.68 -4.25,-2.86 0,0 Z" transform="translate(0.3,-22.8) rotate(37)"/>
<path d="M0,0 C3.21,-2.16 3.21,-5.05 0,-7.21 C-3.21,-5.05 -3.21,-2.16 0,0 Z" transform="translate(-0.3,-27.1) rotate(-37)"/>
<path d="M0,0 C3.21,-2.16 3.21,-5.05 0,-7.21 C-3.21,-5.05 -3.21,-2.16 0,0 Z" transform="translate(0.3,-27.1) rotate(37)"/>
<path d="M0,-29.5 C2.2,-32.0 1.8,-35.5 0,-38.0 C-1.8,-35.5 -2.2,-32.0 0,-29.5 Z"/>
</g></g>
<line x1="894.9" y1="80.1" x2="907.0" y2="108.0" stroke="#4a4410" stroke-width="2.6"/>
<line x1="894.9" y1="80.1" x2="907.0" y2="108.0" stroke="#e0c800" stroke-width="1.5"/>
<g transform="translate(894.9,80.1) rotate(-23.4)">
<path d="M-4.2,-6.8 L-8.5,-20.8 M-3.2,-8.3 L-5.8,-23.8 M4.2,-6.8 L8.5,-20.8 M3.2,-8.3 L5.8,-23.8 M-4.2,-11.0 L-9.0,-25.8 M-3.2,-12.5 L-6.1,-28.8 M4.2,-11.0 L9.0,-25.8 M3.2,-12.5 L6.1,-28.8 M-4.2,-15.1 L-9.5,-30.7 M-3.2,-16.6 L-6.4,-33.7 M4.2,-15.1 L9.5,-30.7 M3.2,-16.6 L6.4,-33.7 M-4.2,-19.3 L-10.0,-35.7 M-3.2,-20.8 L-6.7,-38.7 M4.2,-19.3 L10.0,-35.7 M3.2,-20.8 L6.7,-38.7 M-4.2,-23.5 L-10.5,-40.7 M-3.2,-25.0 L-7.0,-43.7 M4.2,-23.5 L10.5,-40.7 M3.2,-25.0 L7.0,-43.7 M-4.2,-27.7 L-11.0,-45.7 M-3.2,-29.2 L-7.3,-48.7 M4.2,-27.7 L11.0,-45.7 M3.2,-29.2 L7.3,-48.7 M-4.2,-31.9 L-11.5,-50.7 M-3.2,-33.4 L-7.6,-53.7 M4.2,-31.9 L11.5,-50.7 M3.2,-33.4 L7.6,-53.7 M0,-35.8 L0,-49.8" stroke="#6a6428" stroke-width="0.9" fill="none" opacity="0.55"/>
<g fill="#ffe500" stroke="#4a4410" stroke-width="0.55">
<path d="M0,0 C4.05,-2.86 4.05,-6.68 0,-9.54 C-4.05,-6.68 -4.05,-2.86 0,0 Z" transform="translate(-0.3,-1.0) rotate(-37)"/>
<path d="M0,0 C4.05,-2.86 4.05,-6.68 0,-9.54 C-4.05,-6.68 -4.05,-2.86 0,0 Z" transform="translate(0.3,-1.0) rotate(37)"/>
<path d="M0,0 C4.23,-2.99 4.23,-6.97 0,-9.96 C-4.23,-6.97 -4.23,-2.99 0,0 Z" transform="translate(-0.3,-5.2) rotate(-37)"/>
<path d="M0,0 C4.23,-2.99 4.23,-6.97 0,-9.96 C-4.23,-6.97 -4.23,-2.99 0,0 Z" transform="translate(0.3,-5.2) rotate(37)"/>
<path d="M0,0 C4.41,-3.12 4.41,-7.27 0,-10.39 C-4.41,-7.27 -4.41,-3.12 0,0 Z" transform="translate(-0.3,-9.4) rotate(-37)"/>
<path d="M0,0 C4.41,-3.12 4.41,-7.27 0,-10.39 C-4.41,-7.27 -4.41,-3.12 0,0 Z" transform="translate(0.3,-9.4) rotate(37)"/>
<path d="M0,0 C4.41,-3.12 4.41,-7.27 0,-10.39 C-4.41,-7.27 -4.41,-3.12 0,0 Z" transform="translate(-0.3,-13.6) rotate(-37)"/>
<path d="M0,0 C4.41,-3.12 4.41,-7.27 0,-10.39 C-4.41,-7.27 -4.41,-3.12 0,0 Z" transform="translate(0.3,-13.6) rotate(37)"/>
<path d="M0,0 C4.23,-2.99 4.23,-6.97 0,-9.96 C-4.23,-6.97 -4.23,-2.99 0,0 Z" transform="translate(-0.3,-17.7) rotate(-37)"/>
<path d="M0,0 C4.23,-2.99 4.23,-6.97 0,-9.96 C-4.23,-6.97 -4.23,-2.99 0,0 Z" transform="translate(0.3,-17.7) rotate(37)"/>
<path d="M0,0 C4.05,-2.86 4.05,-6.68 0,-9.54 C-4.05,-6.68 -4.05,-2.86 0,0 Z" transform="translate(-0.3,-21.9) rotate(-37)"/>
<path d="M0,0 C4.05,-2.86 4.05,-6.68 0,-9.54 C-4.05,-6.68 -4.05,-2.86 0,0 Z" transform="translate(0.3,-21.9) rotate(37)"/>
<path d="M0,0 C3.06,-2.16 3.06,-5.05 0,-7.21 C-3.06,-5.05 -3.06,-2.16 0,0 Z" transform="translate(-0.3,-26.1) rotate(-37)"/>
<path d="M0,0 C3.06,-2.16 3.06,-5.05 0,-7.21 C-3.06,-5.05 -3.06,-2.16 0,0 Z" transform="translate(0.3,-26.1) rotate(37)"/>
<path d="M0,-28.3 C2.2,-30.8 1.8,-34.3 0,-36.8 C-1.8,-34.3 -2.2,-30.8 0,-28.3 Z"/>
</g></g>
<line x1="919.4" y1="83.1" x2="907.0" y2="108.0" stroke="#4a4410" stroke-width="2.6"/>
<line x1="919.4" y1="83.1" x2="907.0" y2="108.0" stroke="#e0c800" stroke-width="1.5"/>
<g transform="translate(919.4,83.1) rotate(26.5)">
<path d="M-4.2,-6.7 L-8.5,-20.7 M-3.2,-8.2 L-5.8,-23.7 M4.2,-6.7 L8.5,-20.7 M3.2,-8.2 L5.8,-23.7 M-4.2,-10.9 L-9.0,-25.7 M-3.2,-12.4 L-6.1,-28.7 M4.2,-10.9 L9.0,-25.7 M3.2,-12.4 L6.1,-28.7 M-4.2,-15.1 L-9.5,-30.7 M-3.2,-16.6 L-6.4,-33.7 M4.2,-15.1 L9.5,-30.7 M3.2,-16.6 L6.4,-33.7 M-4.2,-19.2 L-10.0,-35.6 M-3.2,-20.7 L-6.7,-38.6 M4.2,-19.2 L10.0,-35.6 M3.2,-20.7 L6.7,-38.6 M-4.2,-23.4 L-10.5,-40.6 M-3.2,-24.9 L-7.0,-43.6 M4.2,-23.4 L10.5,-40.6 M3.2,-24.9 L7.0,-43.6 M-4.2,-27.5 L-11.0,-45.5 M-3.2,-29.0 L-7.3,-48.5 M4.2,-27.5 L11.0,-45.5 M3.2,-29.0 L7.3,-48.5 M-4.2,-31.7 L-11.5,-50.5 M-3.2,-33.2 L-7.6,-53.5 M4.2,-31.7 L11.5,-50.5 M3.2,-33.2 L7.6,-53.5 M0,-35.6 L0,-49.6" stroke="#6a6428" stroke-width="0.9" fill="none" opacity="0.55"/>
<g fill="#ffe500" stroke="#4a4410" stroke-width="0.55">
<path d="M0,0 C4.05,-2.86 4.05,-6.68 0,-9.54 C-4.05,-6.68 -4.05,-2.86 0,0 Z" transform="translate(-0.3,-1.0) rotate(-37)"/>
<path d="M0,0 C4.05,-2.86 4.05,-6.68 0,-9.54 C-4.05,-6.68 -4.05,-2.86 0,0 Z" transform="translate(0.3,-1.0) rotate(37)"/>
<path d="M0,0 C4.23,-2.99 4.23,-6.97 0,-9.96 C-4.23,-6.97 -4.23,-2.99 0,0 Z" transform="translate(-0.3,-5.2) rotate(-37)"/>
<path d="M0,0 C4.23,-2.99 4.23,-6.97 0,-9.96 C-4.23,-6.97 -4.23,-2.99 0,0 Z" transform="translate(0.3,-5.2) rotate(37)"/>
<path d="M0,0 C4.41,-3.12 4.41,-7.27 0,-10.39 C-4.41,-7.27 -4.41,-3.12 0,0 Z" transform="translate(-0.3,-9.3) rotate(-37)"/>
<path d="M0,0 C4.41,-3.12 4.41,-7.27 0,-10.39 C-4.41,-7.27 -4.41,-3.12 0,0 Z" transform="translate(0.3,-9.3) rotate(37)"/>
<path d="M0,0 C4.41,-3.12 4.41,-7.27 0,-10.39 C-4.41,-7.27 -4.41,-3.12 0,0 Z" transform="translate(-0.3,-13.5) rotate(-37)"/>
<path d="M0,0 C4.41,-3.12 4.41,-7.27 0,-10.39 C-4.41,-7.27 -4.41,-3.12 0,0 Z" transform="translate(0.3,-13.5) rotate(37)"/>
<path d="M0,0 C4.23,-2.99 4.23,-6.97 0,-9.96 C-4.23,-6.97 -4.23,-2.99 0,0 Z" transform="translate(-0.3,-17.6) rotate(-37)"/>
<path d="M0,0 C4.23,-2.99 4.23,-6.97 0,-9.96 C-4.23,-6.97 -4.23,-2.99 0,0 Z" transform="translate(0.3,-17.6) rotate(37)"/>
<path d="M0,0 C4.05,-2.86 4.05,-6.68 0,-9.54 C-4.05,-6.68 -4.05,-2.86 0,0 Z" transform="translate(-0.3,-21.8) rotate(-37)"/>
<path d="M0,0 C4.05,-2.86 4.05,-6.68 0,-9.54 C-4.05,-6.68 -4.05,-2.86 0,0 Z" transform="translate(0.3,-21.8) rotate(37)"/>
<path d="M0,0 C3.06,-2.16 3.06,-5.05 0,-7.21 C-3.06,-5.05 -3.06,-2.16 0,0 Z" transform="translate(-0.3,-25.9) rotate(-37)"/>
<path d="M0,0 C3.06,-2.16 3.06,-5.05 0,-7.21 C-3.06,-5.05 -3.06,-2.16 0,0 Z" transform="translate(0.3,-25.9) rotate(37)"/>
<path d="M0,-28.1 C2.2,-30.6 1.8,-34.1 0,-36.6 C-1.8,-34.1 -2.2,-30.6 0,-28.1 Z"/>
</g></g>
<line x1="907.0" y1="80.8" x2="907.0" y2="108.0" stroke="#4a4410" stroke-width="2.6"/>
<line x1="907.0" y1="80.8" x2="907.0" y2="108.0" stroke="#e0c800" stroke-width="1.5"/>
<g transform="translate(907.0,80.8) rotate(0.0)">
<path d="M-4.2,-6.9 L-8.5,-20.9 M-3.2,-8.4 L-5.8,-23.9 M4.2,-6.9 L8.5,-20.9 M3.2,-8.4 L5.8,-23.9 M-4.2,-11.1 L-9.0,-25.9 M-3.2,-12.6 L-6.1,-28.9 M4.2,-11.1 L9.0,-25.9 M3.2,-12.6 L6.1,-28.9 M-4.2,-15.4 L-9.5,-31.0 M-3.2,-16.9 L-6.4,-34.0 M4.2,-15.4 L9.5,-31.0 M3.2,-16.9 L6.4,-34.0 M-4.2,-19.7 L-10.0,-36.1 M-3.2,-21.2 L-6.7,-39.1 M4.2,-19.7 L10.0,-36.1 M3.2,-21.2 L6.7,-39.1 M-4.2,-24.0 L-10.5,-41.2 M-3.2,-25.5 L-7.0,-44.2 M4.2,-24.0 L10.5,-41.2 M3.2,-25.5 L7.0,-44.2 M-4.2,-28.3 L-11.0,-46.3 M-3.2,-29.8 L-7.3,-49.3 M4.2,-28.3 L11.0,-46.3 M3.2,-29.8 L7.3,-49.3 M-4.2,-32.6 L-11.5,-51.4 M-3.2,-34.1 L-7.6,-54.4 M4.2,-32.6 L11.5,-51.4 M3.2,-34.1 L7.6,-54.4 M0,-36.5 L0,-50.5" stroke="#6a6428" stroke-width="0.9" fill="none" opacity="0.55"/>
<g fill="#ffe500" stroke="#4a4410" stroke-width="0.55">
<path d="M0,0 C4.05,-2.86 4.05,-6.68 0,-9.54 C-4.05,-6.68 -4.05,-2.86 0,0 Z" transform="translate(-0.3,-1.0) rotate(-37)"/>
<path d="M0,0 C4.05,-2.86 4.05,-6.68 0,-9.54 C-4.05,-6.68 -4.05,-2.86 0,0 Z" transform="translate(0.3,-1.0) rotate(37)"/>
<path d="M0,0 C4.23,-2.99 4.23,-6.97 0,-9.96 C-4.23,-6.97 -4.23,-2.99 0,0 Z" transform="translate(-0.3,-5.3) rotate(-37)"/>
<path d="M0,0 C4.23,-2.99 4.23,-6.97 0,-9.96 C-4.23,-6.97 -4.23,-2.99 0,0 Z" transform="translate(0.3,-5.3) rotate(37)"/>
<path d="M0,0 C4.41,-3.12 4.41,-7.27 0,-10.39 C-4.41,-7.27 -4.41,-3.12 0,0 Z" transform="translate(-0.3,-9.6) rotate(-37)"/>
<path d="M0,0 C4.41,-3.12 4.41,-7.27 0,-10.39 C-4.41,-7.27 -4.41,-3.12 0,0 Z" transform="translate(0.3,-9.6) rotate(37)"/>
<path d="M0,0 C4.41,-3.12 4.41,-7.27 0,-10.39 C-4.41,-7.27 -4.41,-3.12 0,0 Z" transform="translate(-0.3,-13.9) rotate(-37)"/>
<path d="M0,0 C4.41,-3.12 4.41,-7.27 0,-10.39 C-4.41,-7.27 -4.41,-3.12 0,0 Z" transform="translate(0.3,-13.9) rotate(37)"/>
<path d="M0,0 C4.23,-2.99 4.23,-6.97 0,-9.96 C-4.23,-6.97 -4.23,-2.99 0,0 Z" transform="translate(-0.3,-18.1) rotate(-37)"/>
<path d="M0,0 C4.23,-2.99 4.23,-6.97 0,-9.96 C-4.23,-6.97 -4.23,-2.99 0,0 Z" transform="translate(0.3,-18.1) rotate(37)"/>
<path d="M0,0 C4.05,-2.86 4.05,-6.68 0,-9.54 C-4.05,-6.68 -4.05,-2.86 0,0 Z" transform="translate(-0.3,-22.4) rotate(-37)"/>
<path d="M0,0 C4.05,-2.86 4.05,-6.68 0,-9.54 C-4.05,-6.68 -4.05,-2.86 0,0 Z" transform="translate(0.3,-22.4) rotate(37)"/>
<path d="M0,0 C3.06,-2.16 3.06,-5.05 0,-7.21 C-3.06,-5.05 -3.06,-2.16 0,0 Z" transform="translate(-0.3,-26.7) rotate(-37)"/>
<path d="M0,0 C3.06,-2.16 3.06,-5.05 0,-7.21 C-3.06,-5.05 -3.06,-2.16 0,0 Z" transform="translate(0.3,-26.7) rotate(37)"/>
<path d="M0,-29.0 C2.2,-31.5 1.8,-35.0 0,-37.5 C-1.8,-35.0 -2.2,-31.5 0,-29.0 Z"/>
</g></g>
<path d="M898.3,103 L898.3,92.5 L906.2,105 M916.0,103 L916.0,92.5 L907.8,105" fill="none" stroke="#e0c800" stroke-width="1.5"/>
<g fill="#ffe500" stroke="#15151f" stroke-width="1.4" stroke-linejoin="miter">
<polygon points="892.2,122.0 895.5,118.8 929.8,152.7 926.5,156.0"/>
<polygon points="885.2,152.8 888.4,156.0 921.0,123.2 917.8,120.0"/>
<polygon points="879.5,124.0 895.8,106.2 901.6,111.6 885.5,129.4"/>
<polygon points="912.1,112.2 917.7,106.6 927.8,116.2 935.6,130.8 922.4,122.6"/>
</g>
<path d="M925.0,111.5 L927.6,113.2 L928.6,116.0 Z" fill="#15151f"/>
</g>
<path d="M832.8,29.75 L981.9,29.75 L981.9,122.6 A74.55,75 0 0 1 907.35,197.6 A74.55,75 0 0 1 832.8,122.6 Z" fill="none" stroke="#1a1414" stroke-width="2.1" stroke-linejoin="miter"/>
</g>
</svg></body></html>
